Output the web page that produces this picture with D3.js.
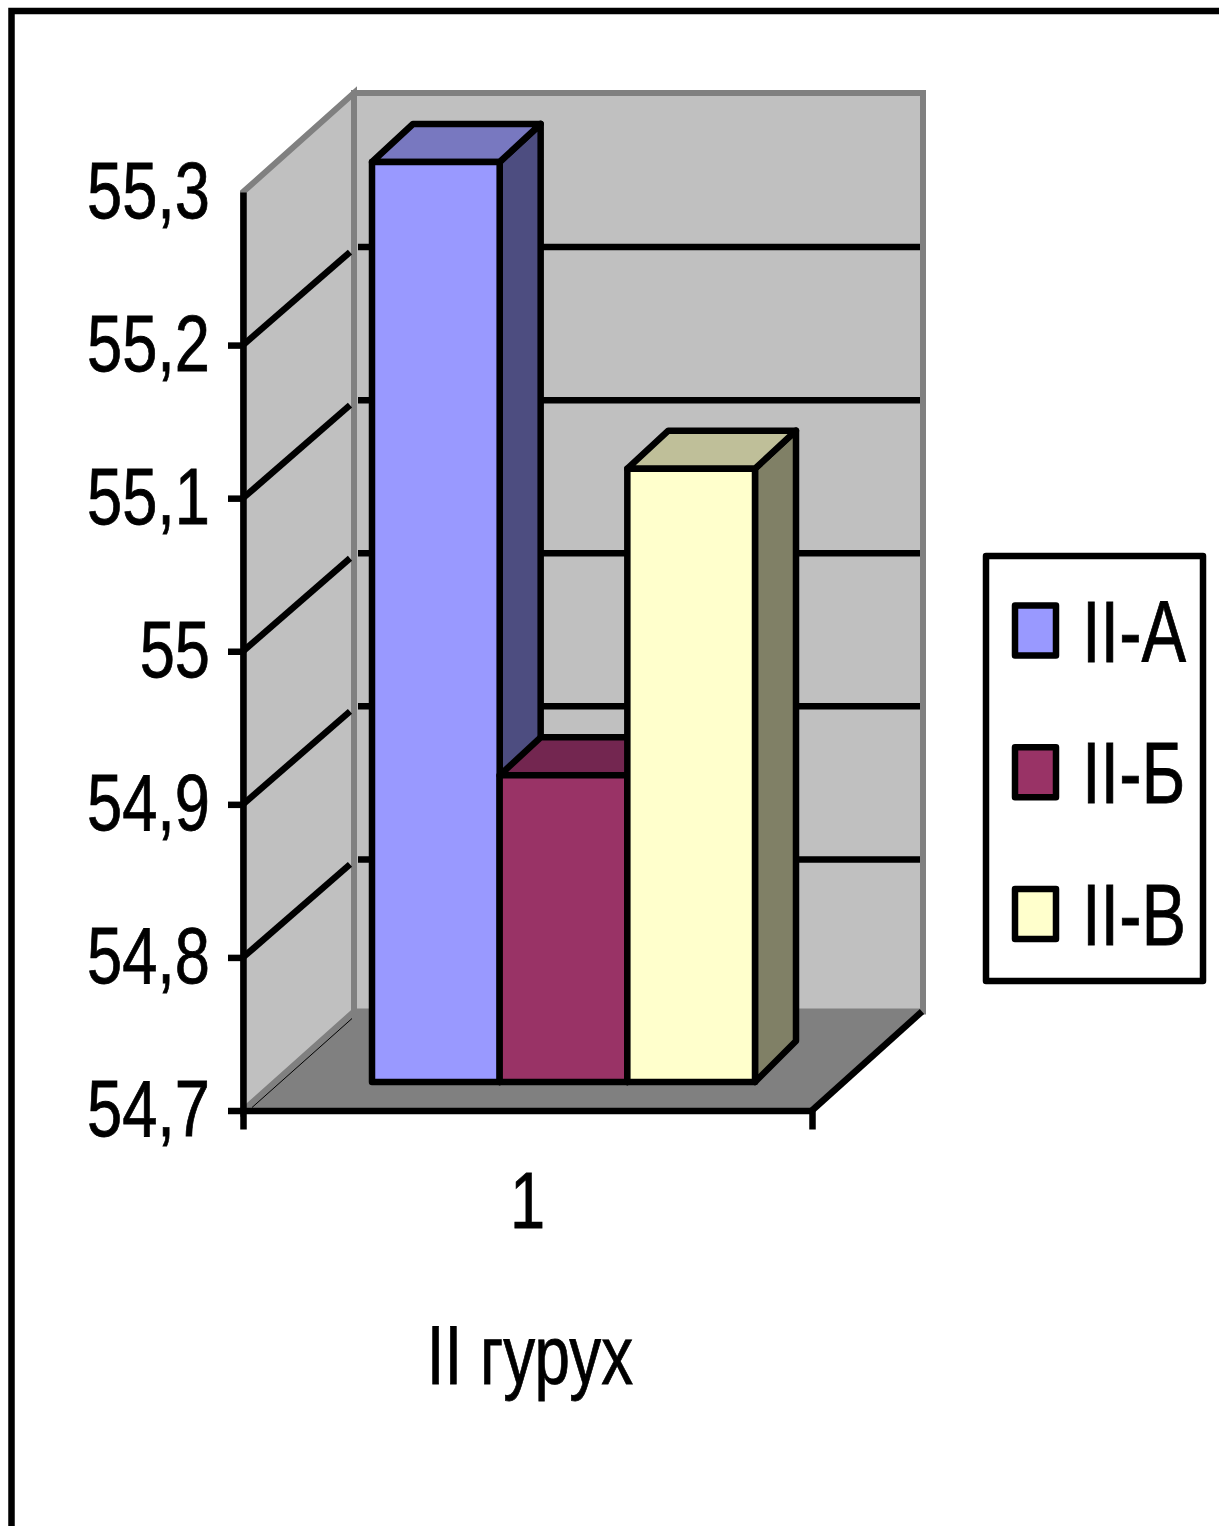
<!DOCTYPE html>
<html>
<head>
<meta charset="utf-8">
<script src="https://cdn.jsdelivr.net/npm/d3@7"></script>
<style>
body { margin: 0; background: #fff; }
svg { display: block; }
text { font-family: "Liberation Sans", Arial, sans-serif; fill: #000; stroke: #000; stroke-width: 0.8px; }
</style>
</head>
<body>
<div id="chart"></div>
<script>
const categories = ["1"];
const seriesNames = ["II-А", "II-Б", "II-В"];
const seriesValues = [55.3, 54.9, 55.1];
const tickValues = [54.7, 54.8, 54.9, 55, 55.1, 55.2, 55.3];
const axisTitle = "II гурух";

const frontColors = ["#9999FF", "#993366", "#FFFFCC"];
const topColors = ["#7878C0", "#732650", "#BFBF99"];
const sideColors = ["#4D4D80", "#4D1A33", "#808066"];

const width = 1219, height = 1526;
const strokeW = 6.5;
const textSquash = 0.79;

// wall plane
const left = 243, right = 812, wallDx = 111, wallDy = 99, gridDy = 98;
const y = d3.scaleLinear().domain([54.7, 55.3]).range([1110.5, 192]);
const x = d3.scaleBand().domain(categories).range([left, right]);

// plane the bars stand in, a bit behind the front edge
const barY = d3.scaleLinear().domain([54.7, 55.3]).range([1082, 162]);
const barX = d3.scaleBand().domain(seriesNames).range([372, 755]);
const barDx = 41, barTopDy = 38, barBaseDy = 41;

const svg = d3.select("#chart").append("svg")
    .attr("width", width)
    .attr("height", height);

const poly = d3.line();

// outer frame, runs off the right and bottom of the picture
svg.append("path")
    .attr("d", poly([[11.5, height], [11.5, 11], [width, 11]]))
    .attr("fill", "none")
    .attr("stroke", "#000")
    .attr("stroke-width", strokeW);

const yTop = y.range()[1], yBase = y.range()[0];

// back wall
svg.append("path")
    .attr("d", poly([[left + wallDx, yTop - wallDy], [right + wallDx, yTop - wallDy],
                     [right + wallDx, yBase - wallDy], [left + wallDx, yBase - wallDy]]) + "Z")
    .attr("fill", "#C0C0C0")
    .attr("stroke", "#808080")
    .attr("stroke-width", 6);

// side wall
svg.append("path")
    .attr("d", poly([[left, yTop], [left + wallDx, yTop - wallDy],
                     [left + wallDx, yBase - wallDy], [left, yBase]]) + "Z")
    .attr("fill", "#C0C0C0")
    .attr("stroke", "#808080")
    .attr("stroke-width", 6);

// floor
svg.append("path")
    .attr("d", poly([[left, yBase], [left + wallDx, yBase - wallDy],
                     [right + wallDx, yBase - wallDy], [right, yBase]]) + "Z")
    .attr("fill", "#808080");

svg.append("path")
    .attr("d", poly([[left + 9, yBase - 3], [left + wallDx - 2, yBase - wallDy + 7]]))
    .attr("stroke", "#000")
    .attr("stroke-width", 1);

svg.append("path")
    .attr("d", poly([[right, yBase], [right + wallDx - 1, yBase - wallDy]]))
    .attr("stroke", "#000")
    .attr("stroke-width", strokeW);

// gridlines, skipping the first and last tick
const gridTicks = tickValues.slice(1, -1);

svg.selectAll(".grid-back")
    .data(gridTicks)
    .enter()
    .append("line")
    .attr("class", "grid-back")
    .attr("x1", left + wallDx + 4)
    .attr("x2", right + wallDx - 3)
    .attr("y1", d => y(d) - gridDy)
    .attr("y2", d => y(d) - gridDy)
    .attr("stroke", "#000")
    .attr("stroke-width", strokeW);

svg.selectAll(".grid-side")
    .data(gridTicks)
    .enter()
    .append("line")
    .attr("class", "grid-side")
    .attr("x1", left)
    .attr("x2", left + 107)
    .attr("y1", d => y(d))
    .attr("y2", d => y(d) - 93)
    .attr("stroke", "#000")
    .attr("stroke-width", strokeW);

// bars, one group per series so later ones cover earlier ones
const bars = svg.selectAll(".bar")
    .data(seriesNames)
    .enter()
    .append("g")
    .attr("class", "bar")
    .attr("stroke", "#000")
    .attr("stroke-width", strokeW)
    .attr("stroke-linejoin", "round");

bars.append("path")
    .attr("fill", (d, i) => sideColors[i])
    .attr("d", (d, i) => {
        let x1 = barX(d) + barX.bandwidth(), top = barY(seriesValues[i]), base = barY.range()[0];
        return poly([[x1, top], [x1 + barDx, top - barTopDy], [x1 + barDx, base - barBaseDy], [x1, base]]) + "Z";
    });

bars.append("path")
    .attr("fill", (d, i) => topColors[i])
    .attr("d", (d, i) => {
        let x0 = barX(d), x1 = x0 + barX.bandwidth(), top = barY(seriesValues[i]);
        return poly([[x0, top], [x0 + barDx, top - barTopDy], [x1 + barDx, top - barTopDy], [x1, top]]) + "Z";
    });

bars.append("rect")
    .attr("fill", (d, i) => frontColors[i])
    .attr("x", d => barX(d))
    .attr("width", barX.bandwidth())
    .attr("y", (d, i) => barY(seriesValues[i]))
    .attr("height", (d, i) => barY.range()[0] - barY(seriesValues[i]));

// y axis
const yAxis = d3.axisLeft(y)
    .tickValues(tickValues)
    .tickFormat(d => String(d).replace(".", ","))
    .tickSize(15)
    .tickSizeOuter(0);

const yG = svg.append("g")
    .attr("transform", "translate(" + left + ",0)")
    .call(yAxis);

yG.selectAll("path, line").attr("stroke", "#000").attr("stroke-width", strokeW);
yG.selectAll(".tick").filter(d => d === 55.3).select("line").remove();
yG.selectAll(".tick text")
    .attr("x", null)
    .attr("dy", null)
    .attr("text-anchor", "end")
    .attr("transform", "translate(-33,25) scale(" + textSquash + ",1)")
    .style("font-size", "80px");

// x axis, outer ticks only
const xAxis = d3.axisBottom(x)
    .tickSizeInner(0)
    .tickSizeOuter(19);

const xG = svg.append("g")
    .attr("transform", "translate(0," + yBase + ")")
    .call(xAxis);

xG.selectAll("path").attr("stroke", "#000").attr("stroke-width", strokeW).attr("fill", "none");
xG.selectAll(".tick text")
    .attr("y", null)
    .attr("dy", null)
    .attr("text-anchor", "middle")
    .attr("transform", "translate(0,117) scale(" + textSquash + ",1)")
    .style("font-size", "80px");

svg.append("text")
    .attr("text-anchor", "middle")
    .attr("transform", "translate(530,1384) scale(0.76,1)")
    .style("font-size", "84px")
    .text(axisTitle);

// legend
const legendY = d3.scalePoint().domain(seriesNames).range([630.5, 914]);

svg.append("rect")
    .attr("x", 986)
    .attr("y", 556)
    .attr("width", 217)
    .attr("height", 425)
    .attr("fill", "#fff")
    .attr("stroke", "#000")
    .attr("stroke-width", strokeW)
    .attr("stroke-linejoin", "round");

const legend = svg.selectAll(".legend-item")
    .data(seriesNames)
    .enter()
    .append("g")
    .attr("class", "legend-item")
    .attr("transform", d => "translate(0," + legendY(d) + ")");

legend.append("rect")
    .attr("x", 1015)
    .attr("y", -25)
    .attr("width", 41)
    .attr("height", 50)
    .attr("fill", (d, i) => frontColors[i])
    .attr("stroke", "#000")
    .attr("stroke-width", strokeW)
    .attr("stroke-linejoin", "round");

legend.append("text")
    .attr("transform", "translate(1082,31) scale(0.76,1)")
    .style("font-size", "88px")
    .text(d => d);
</script>
</body>
</html>
